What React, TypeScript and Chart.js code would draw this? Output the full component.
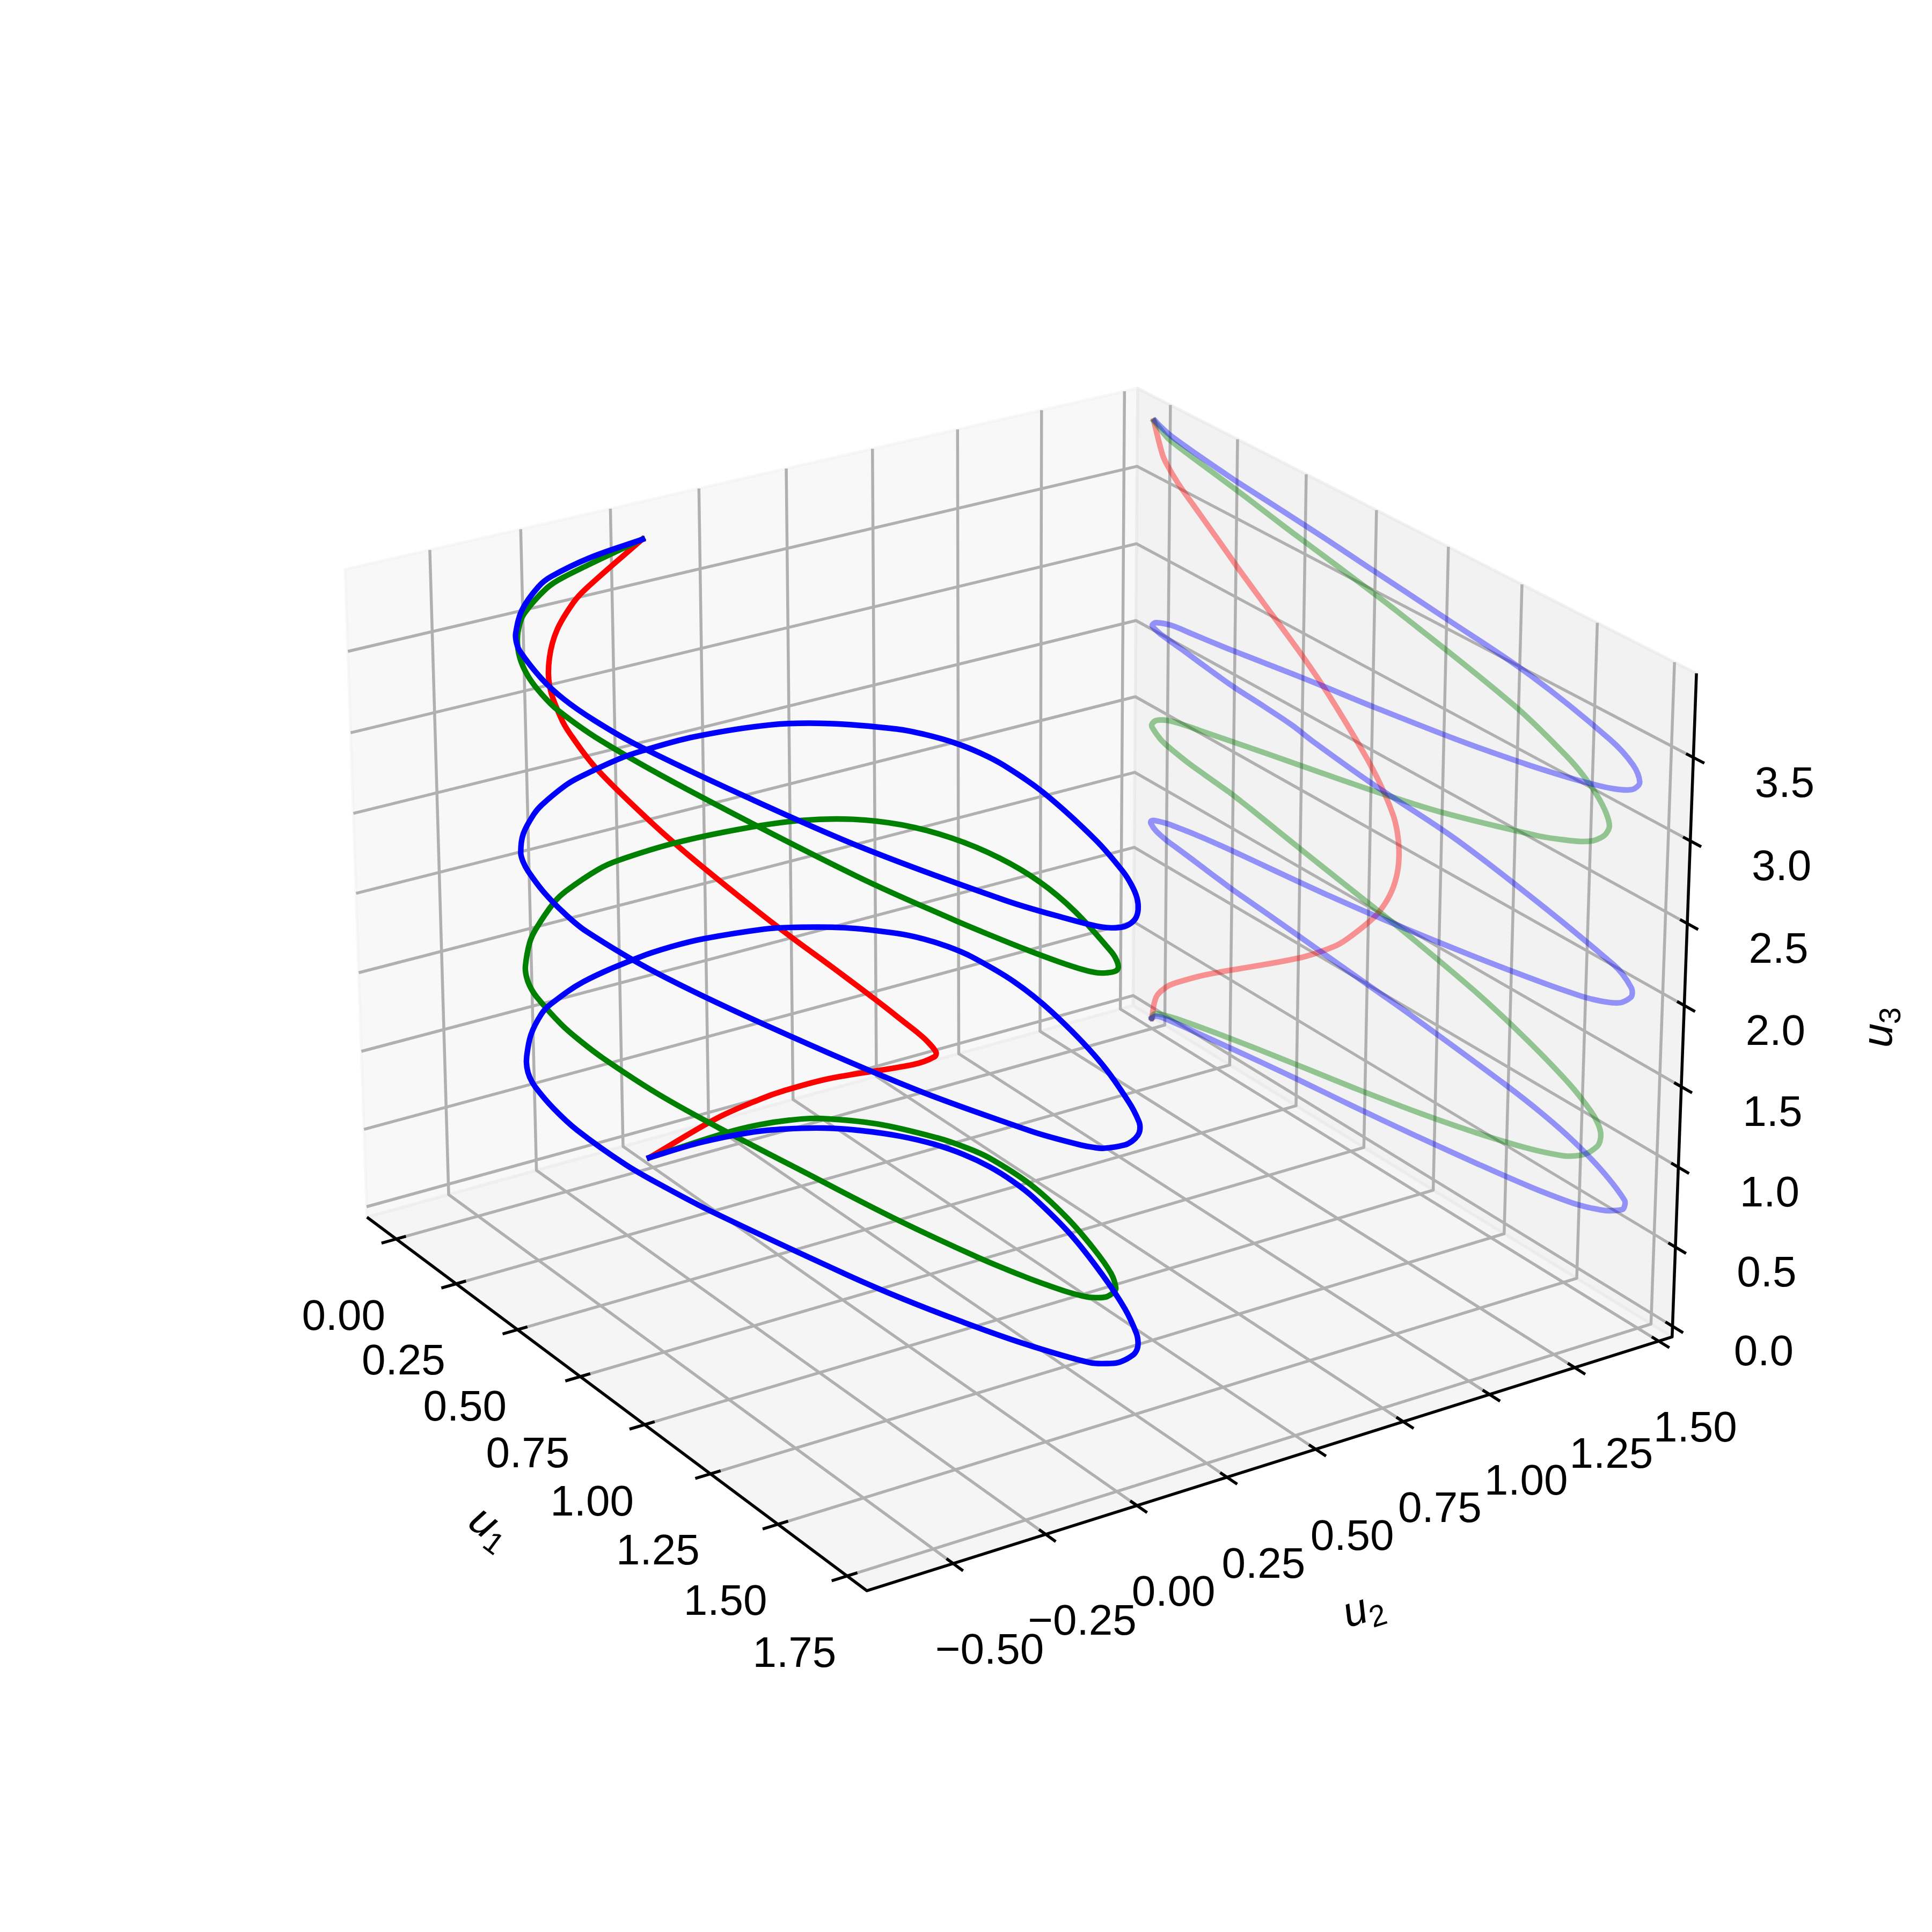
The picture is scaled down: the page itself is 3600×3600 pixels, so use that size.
import React, { useEffect, useRef } from "react";
import { Chart, registerables } from "chart.js";
Chart.register(...registerables);

// ---- values ----
const redU1 = [-0.051,-0.034,0.004,0.040,0.160,0.504,0.629,0.677,0.770,0.808,0.836,0.851,0.853,0.845,0.828,0.781,
  0.722,0.598,0.501,0.354,0.262,0.222,0.150,0.088,0.031,-0.013,-0.029,-0.062];
const redU2 = [0.025,0.211,0.314,0.353,0.398,0.389,0.356,0.324,0.226,0.170,0.110,0.052,-0.002,-0.050,-0.090,-0.152,
  -0.205,-0.289,-0.336,-0.381,-0.389,-0.386,-0.365,-0.322,-0.261,-0.185,-0.138,0.045];
const redU3 = [-0.076,0.086,0.192,0.259,0.442,0.913,1.118,1.219,1.453,1.581,1.715,1.848,1.972,2.082,2.175,2.320,
  2.455,2.691,2.848,3.055,3.185,3.245,3.352,3.443,3.529,3.615,3.663,3.845];

const greenU1 = [-0.051,-0.042,-0.026,0.004,0.046,0.175,0.347,0.436,0.529,0.728,0.950,1.166,1.332,1.433,1.465,1.515,
  1.553,1.563,1.564,1.553,1.530,1.457,1.308,1.128,0.872,0.730,0.575,0.499,0.428,0.315,0.272,0.235,
  0.198,0.116,0.073,-0.002,-0.028,-0.057,-0.060,-0.042,0.001,0.049,0.122,0.234,0.389,0.575,0.777,1.005,
  1.329,1.408,1.468,1.508,1.531,1.549,1.560,1.548,1.519,1.475,1.416,1.233,0.825,0.589,0.450,0.384,
  0.317,0.251,0.188,0.130,0.081,0.010,-0.013,-0.062];
const greenU2 = [0.025,0.239,0.326,0.396,0.452,0.530,0.579,0.590,0.590,0.557,0.487,0.397,0.314,0.247,0.216,0.153,
  0.082,0.044,0.005,-0.035,-0.076,-0.154,-0.258,-0.350,-0.454,-0.498,-0.530,-0.539,-0.542,-0.532,-0.521,-0.505,
  -0.482,-0.414,-0.368,-0.265,-0.211,-0.101,-0.041,0.108,0.280,0.409,0.503,0.563,0.590,0.584,0.545,0.466,
  0.312,0.264,0.220,0.180,0.139,0.098,0.049,-0.007,-0.067,-0.128,-0.186,-0.309,-0.468,-0.532,-0.548,-0.544,
  -0.532,-0.509,-0.475,-0.432,-0.383,-0.273,-0.210,0.045];
const greenU3 = [-0.076,-0.039,-0.021,-0.000,0.023,0.080,0.148,0.181,0.215,0.287,0.376,0.477,0.570,0.642,0.673,0.742,
  0.831,0.880,0.930,0.980,1.028,1.118,1.240,1.354,1.474,1.530,1.590,1.620,1.649,1.695,1.711,1.724,
  1.733,1.753,1.765,1.797,1.816,1.858,1.879,1.923,1.964,1.989,2.016,2.058,2.115,2.182,2.258,2.356,
  2.536,2.593,2.642,2.687,2.726,2.769,2.829,2.896,2.968,3.041,3.108,3.249,3.447,3.542,3.595,3.622,
  3.650,3.677,3.701,3.723,3.741,3.771,3.786,3.845];

const blueU1 = [-0.051,-0.035,-0.006,0.027,0.078,0.146,0.226,0.314,0.407,0.501,0.599,0.702,0.925,1.150,1.337,1.470,
  1.521,1.563,1.597,1.641,1.649,1.650,1.571,1.468,1.360,1.237,0.906,0.779,0.657,0.487,0.382,0.288,
  0.246,0.207,0.170,0.096,0.032,0.005,-0.040,-0.061,-0.059,-0.047,-0.001,0.031,0.112,0.217,0.280,0.351,
  0.430,0.610,0.810,1.113,1.365,1.484,1.528,1.563,1.595,1.620,1.648,1.652,1.648,1.617,1.588,1.379,
  1.048,0.753,0.544,0.464,0.364,0.268,0.228,0.192,0.126,0.063,0.035,-0.014,-0.033,-0.059,-0.061,-0.046,
  0.012,0.086,0.210,0.286,0.372,0.463,0.559,0.757,1.073,1.278,1.370,1.451,1.521,1.576,1.614,1.637,
  1.653,1.629,1.554,1.286,0.991,0.716,0.586,0.477,0.374,0.246,0.209,0.173,0.090,0.017,-0.009,-0.040,
  -0.057];
const blueU2 = [0.025,0.162,0.296,0.367,0.443,0.507,0.557,0.591,0.609,0.613,0.605,0.586,0.521,0.434,0.350,0.276,
  0.240,0.204,0.166,0.094,0.059,0.002,-0.117,-0.213,-0.285,-0.345,-0.469,-0.504,-0.530,-0.545,-0.539,-0.523,
  -0.510,-0.491,-0.466,-0.403,-0.330,-0.286,-0.161,0.012,0.103,0.190,0.331,0.387,0.483,0.561,0.590,0.608,
  0.615,0.601,0.554,0.449,0.334,0.268,0.235,0.201,0.160,0.119,0.040,0.008,-0.023,-0.085,-0.117,-0.261,
  -0.421,-0.506,-0.548,-0.552,-0.539,-0.515,-0.501,-0.483,-0.431,-0.358,-0.316,-0.219,-0.164,-0.035,0.034,0.169,
  0.345,0.462,0.567,0.597,0.614,0.617,0.609,0.570,0.469,0.382,0.334,0.284,0.231,0.180,0.132,0.090,
  0.027,-0.060,-0.155,-0.331,-0.438,-0.519,-0.542,-0.548,-0.538,-0.508,-0.492,-0.469,-0.395,-0.300,-0.246,-0.116,
  0.042];
const blueU3 = [-0.076,-0.045,-0.027,-0.015,-0.000,0.018,0.040,0.064,0.088,0.111,0.133,0.156,0.211,0.273,0.331,0.385,
  0.414,0.445,0.475,0.531,0.555,0.600,0.702,0.783,0.838,0.881,0.967,0.994,1.019,1.055,1.076,1.094,
  1.103,1.114,1.124,1.146,1.163,1.170,1.193,1.225,1.242,1.256,1.283,1.295,1.321,1.347,1.360,1.374,
  1.389,1.426,1.476,1.566,1.653,1.702,1.726,1.750,1.777,1.807,1.868,1.898,1.927,1.981,2.006,2.108,
  2.235,2.291,2.349,2.380,2.400,2.415,2.423,2.433,2.453,2.473,2.481,2.495,2.501,2.519,2.531,2.559,
  2.595,2.612,2.640,2.660,2.683,2.707,2.731,2.777,2.861,2.930,2.966,3.001,3.036,3.070,3.102,3.133,
  3.188,3.270,3.347,3.481,3.559,3.626,3.659,3.684,3.706,3.733,3.743,3.753,3.777,3.801,3.813,3.834,
  3.850];

const u1Ticks = [0, 0.25, 0.5, 0.75, 1, 1.25, 1.5, 1.75];
const u2Ticks = [-0.5, -0.25, 0, 0.25, 0.5, 0.75, 1, 1.25, 1.5];
const u3Ticks = [0, 0.5, 1, 1.5, 2, 2.5, 3, 3.5];

// ---- 3D view: axis limits and the perspective camera fitted to the box corners ----
const LIM = [[-0.124, 1.82], [-0.73, 1.54], [-0.068, 4.0]];
const corners = [
  [0,0,0,683,2266],[1,0,0,1616,2965],[1,1,0,3115,2491],[0,1,0,2112,1875],
  [1,1,1,3161,1254],[0,1,1,2120,723],[0,0,1,643,1062],
];
function solve(A:number[][], b:number[]){ const n=b.length; const M=A.map((r,i)=>[...r,b[i]]);
  for(let c=0;c<n;c++){ let p=c; for(let r=c+1;r<n;r++) if(Math.abs(M[r][c])>Math.abs(M[p][c])) p=r; [M[c],M[p]]=[M[p],M[c]];
    for(let r=0;r<n;r++){ if(r===c) continue; const f=M[r][c]/M[c][c]; for(let k=c;k<=n;k++) M[r][k]-=f*M[c][k]; } }
  return M.map((r,i)=>r[n]/r[i]); }
function fitH(){ const S=3600; const rows:number[][]=[]; const rhs:number[]=[];
  for(const [a,b,c,X0,Y0] of corners){ const X=X0/S,Y=Y0/S;
    rows.push([a,b,c,1,0,0,0,0,-X*a,-X*b,-X*c]); rhs.push(X);
    rows.push([0,0,0,0,a,b,c,1,-Y*a,-Y*b,-Y*c]); rhs.push(Y); }
  const N=11; const A=Array.from({length:N},()=>new Array(N).fill(0)); const B=new Array(N).fill(0);
  rows.forEach((r,i)=>{ for(let p=0;p<N;p++){ B[p]+=r[p]*rhs[i]; for(let q=0;q<N;q++) A[p][q]+=r[p]*r[q]; } });
  const h=solve(A,B);
  return [[h[0]*S,h[1]*S,h[2]*S,h[3]*S],[h[4]*S,h[5]*S,h[6]*S,h[7]*S],[h[8],h[9],h[10],1]]; }
const H=fitH();
const norm=(v:number,i:number)=>(v-LIM[i][0])/(LIM[i][1]-LIM[i][0]);
function pn(a:number,b:number,c:number){ const w=H[2][0]*a+H[2][1]*b+H[2][2]*c+H[2][3];
  return {x:(H[0][0]*a+H[0][1]*b+H[0][2]*c+H[0][3])/w,y:(H[1][0]*a+H[1][1]*b+H[1][2]*c+H[1][3])/w}; }
const main3d=(a:number[],b:number[],c:number[])=>a.map((v,i)=>pn(norm(v,0),norm(b[i],1),norm(c[i],2)));
const onWall=(a:number[],c:number[])=>a.map((v,i)=>pn(norm(v,0),1,norm(c[i],2)));

const gap={x:NaN,y:NaN};
const ds=(data:any[],o:any)=>({data,showLine:true,pointRadius:0,borderJoinStyle:"round",...o});
const grid:any[]=[];
u1Ticks.forEach(t=>{const a=norm(t,0);grid.push(pn(a,0,0),pn(a,1,0),pn(a,1,1),gap);});
u2Ticks.forEach(t=>{const b=norm(t,1);grid.push(pn(1,b,0),pn(0,b,0),pn(0,b,1),gap);});
u3Ticks.forEach(t=>{const c=norm(t,2);grid.push(pn(0,0,c),pn(0,1,c),pn(1,1,c),gap);});
const ticks:any[]=[];const IN=0.012,OUT=0.018;
u1Ticks.forEach(t=>{const a=norm(t,0);ticks.push(pn(a,-OUT,0),pn(a,IN,0),gap);});
u2Ticks.forEach(t=>{const b=norm(t,1);ticks.push(pn(1+OUT,b,0),pn(1-IN,b,0),gap);});
u3Ticks.forEach(t=>{const c=norm(t,2);ticks.push(pn(1+OUT,1,c),pn(1-IN,1,c),gap);});
const pane=(pts:number[][],bg:string)=>ds(pts.concat([pts[0]]).map(p=>pn(p[0],p[1],p[2])),{fill:"shape",backgroundColor:bg,borderColor:bg,borderWidth:5.5});
const curve=(data:any[],c:string)=>ds(data,{borderColor:c,borderWidth:10.4,tension:0.35,borderCapStyle:"square"});
const list=[
  pane([[0,0,0],[0,1,0],[0,1,1],[0,0,1]],"rgba(242,242,242,0.5)"),
  pane([[0,1,0],[1,1,0],[1,1,1],[0,1,1]],"rgba(230,230,230,0.5)"),
  pane([[0,0,0],[1,0,0],[1,1,0],[0,1,0]],"rgba(236,236,236,0.5)"),
  ds(grid,{borderColor:"#b0b0b0",borderWidth:5.5}),
  ds([pn(0,0,0),pn(1,0,0),pn(1,1,0),pn(1,1,1)],{borderColor:"#000",borderWidth:5.5}),
  ds(ticks,{borderColor:"#000",borderWidth:5.5}),
  curve(onWall(redU1,redU3),"rgba(255,0,0,0.4)"),
  curve(onWall(greenU1,greenU3),"rgba(0,128,0,0.4)"),
  curve(onWall(blueU1,blueU3),"rgba(0,0,255,0.4)"),
  curve(main3d(redU1,redU2,redU3),"#f00"),
  curve(main3d(greenU1,greenU2,greenU3),"#008000"),
  curve(main3d(blueU1,blueU2,blueU3),"#00f"),
];
list.forEach((d:any,i)=>{d.order=list.length-i;});

const FONT='"Liberation Sans"';
const LAB=(ctx:any,cx:number,cy:number,ang:number,sub:string)=>{ctx.save();ctx.translate(cx,cy);ctx.rotate(ang*Math.PI/180);ctx.textBaseline="alphabetic";ctx.textAlign="left";ctx.font=`italic 80px ${FONT}`;const w1=ctx.measureText("u").width;ctx.fillText("u",-(w1+31)/2,22);ctx.font=`56px ${FONT}`;ctx.fillText(sub,-(w1+31)/2+w1,36);ctx.restore();};
const textPlugin={id:"txt",afterDraw(ch:any){const ctx=ch.ctx;const X=ch.scales.x,Y=ch.scales.y;ctx.save();ctx.fillStyle="#000";ctx.textAlign="center";ctx.textBaseline="middle";ctx.font=`80px ${FONT}`;
  const put=(t:string,p:any,dx:number,dy:number)=>ctx.fillText(t,X.getPixelForValue(p.x)+dx,Y.getPixelForValue(p.y)+dy);
  u1Ticks.forEach(t=>put(t.toFixed(2),pn(norm(t,0),0,0),-98,147));
  u2Ticks.forEach(t=>put(t.toFixed(2).replace("-","\u2212"),pn(1,norm(t,1),0),68,165));
  u3Ticks.forEach(t=>put(t.toFixed(1),pn(1,1,norm(t,2)),170,51));
  LAB(ctx,912,2848,36.7,"1");LAB(ctx,2541,3001,-17.5,"2");LAB(ctx,3504,1914,-88,"3");
  ctx.restore();}};

export default function App(){
  const ref=useRef<HTMLCanvasElement>(null);
  useEffect(()=>{document.body.style.margin="0";
    const chart=new Chart(ref.current as any,{type:"scatter",data:{datasets:list as any},options:{responsive:false,animation:false as any,layout:{padding:0},
      scales:{x:{type:"linear",min:0,max:3600,display:false},y:{type:"linear",min:0,max:3600,reverse:true,display:false}},
      plugins:{legend:{display:false},tooltip:{enabled:false}}},plugins:[textPlugin as any]});
    return ()=>chart.destroy();},[]);
  return <canvas ref={ref} width={3600} height={3600} style={{display:"block"}}/>;
}
